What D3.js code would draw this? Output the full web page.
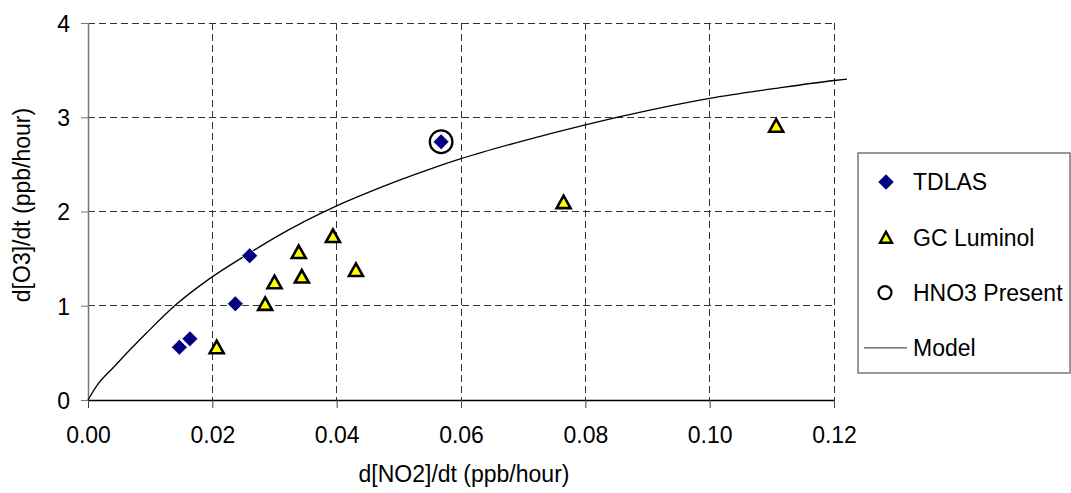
<!DOCTYPE html>
<html>
<head>
<meta charset="utf-8">
<script src="https://cdn.jsdelivr.net/npm/d3@7"></script>
<style>
  body { margin: 0; background: #fff; }
  svg { display: block; font-family: Arial, "Liberation Sans", sans-serif; }
  .grid line { stroke: #333; stroke-width: 1; stroke-dasharray: 7,4; shape-rendering: crispEdges; }
  .tick-label { font-size: 23px; fill: #000; }
  .axis-label { font-size: 23px; fill: #000; }
  .legend-text { font-size: 23px; fill: #000; }
</style>
</head>
<body>
<svg id="chart" width="1071" height="493"></svg>
<script>
var margin = {top: 23, right: 237, bottom: 93, left: 88};
var width = 1071 - margin.left - margin.right,
    height = 493 - margin.top - margin.bottom;

var navy = "#000080",
    yellow = "#ffff00";

// TDLAS measurements
var tdlasX = [0.0147, 0.0164, 0.0237, 0.0260, 0.0568];
var tdlasY = [0.56, 0.65, 1.02, 1.53, 2.74];

// GC Luminol measurements
var gcX = [0.0207, 0.0285, 0.0300, 0.0339, 0.0344, 0.0394, 0.0431, 0.0765, 0.1107];
var gcY = [0.56, 1.02, 1.25, 1.57, 1.31, 1.74, 1.38, 2.10, 2.91];

// points where HNO3 was present
var hno3X = [0.0568];
var hno3Y = [2.74];

// model curve
var modelX = [0, 0.0014, 0.004, 0.0094, 0.0143, 0.0194, 0.026, 0.030, 0.035, 0.040,
              0.045, 0.050, 0.055, 0.060, 0.070, 0.080, 0.090, 0.100, 0.110, 0.120, 0.1221];
var modelY = [0, 0.15, 0.34, 0.71, 1.02, 1.28, 1.56, 1.72, 1.90, 2.06,
              2.20, 2.33, 2.45, 2.56, 2.75, 2.92, 3.07, 3.20, 3.30, 3.39, 3.405];

var xTicks = [0, 0.02, 0.04, 0.06, 0.08, 0.10, 0.12];
var yTicks = [0, 1, 2, 3, 4];

var legendLabels = ["TDLAS", "GC Luminol", "HNO3 Present", "Model"];

var x = d3.scaleLinear().domain([0, 0.12]).range([0, width]);
var y = d3.scaleLinear().domain([0, 4]).range([height, 0]);

var svg = d3.select("#chart")
  .append("g")
    .attr("transform", "translate(" + margin.left + "," + margin.top + ")");

//Dashed gridlines
svg.append("g").attr("class", "grid")
  .selectAll("line")
  .data(xTicks.slice(1))
  .enter().append("line")
    .attr("x1", function(d){return x(d);})
    .attr("x2", function(d){return x(d);})
    .attr("y1", 0)
    .attr("y2", height);

svg.append("g").attr("class", "grid")
  .selectAll("line")
  .data(yTicks.slice(1))
  .enter().append("line")
    .attr("x1", 0)
    .attr("x2", width)
    .attr("y1", function(d){return y(d);})
    .attr("y2", function(d){return y(d);});

//X axis
var xAxis = svg.append("g")
  .attr("transform", "translate(0," + height + ")")
  .call(d3.axisBottom(x).tickValues(xTicks).tickSize(8).tickPadding(0).tickFormat(d3.format(".2f")));
xAxis.select(".domain").attr("stroke", "#000").attr("stroke-width", 1.5).attr("d", "M0,0.5H" + width);
xAxis.selectAll(".tick line").attr("stroke", "#444");
xAxis.selectAll(".tick text")
  .attr("class", "tick-label")
  .attr("font-size", null).attr("font-family", null)
  .attr("y", 43).attr("dy", 0);

//Y axis
var yAxis = svg.append("g")
  .call(d3.axisLeft(y).tickValues(yTicks).tickSize(7).tickPadding(0).tickFormat(d3.format("d")));
yAxis.select(".domain").attr("stroke", "#777").attr("stroke-width", 1.5).attr("d", "M0.5," + height + "V0");
yAxis.selectAll(".tick line").attr("stroke", "#777");
yAxis.selectAll(".tick text")
  .attr("class", "tick-label")
  .attr("font-size", null).attr("font-family", null)
  .attr("x", -18).attr("dy", "0.36em");

//Axis titles
svg.append("text")
  .attr("class", "axis-label")
  .attr("text-anchor", "middle")
  .attr("x", 464 - margin.left)
  .attr("y", 482 - margin.top)
  .text("d[NO2]/dt (ppb/hour)");

svg.append("text")
  .attr("class", "axis-label")
  .attr("text-anchor", "middle")
  .attr("transform", "translate(" + (30 - margin.left) + "," + (205 - margin.top) + ") rotate(-90)")
  .text("d[O3]/dt (ppb/hour)");

//Model line
var model = modelX.map(function(d, i){return {x: d, y: modelY[i]};});
svg.append("path")
  .datum(model)
  .attr("fill", "none")
  .attr("stroke", "#000")
  .attr("stroke-width", 1.3)
  .attr("d", d3.line()
    .curve(d3.curveMonotoneX)
    .x(function(d){return x(d.x);})
    .y(function(d){return y(d.y);}));

//Marker shapes
var diamondPath = d3.symbol().type(d3.symbolSquare).size(128)();
var trianglePath = "M0,-6.5L7,6L-7,6Z";

var gc = gcX.map(function(d, i){return {x: d, y: gcY[i]};});
svg.selectAll(".gc")
  .data(gc)
  .enter().append("path")
    .attr("class", "gc")
    .attr("d", trianglePath)
    .attr("transform", function(d){return "translate(" + x(d.x) + "," + y(d.y) + ")";})
    .style("fill", yellow)
    .style("stroke", "#000")
    .style("stroke-width", 2.6)
    .style("stroke-linejoin", "miter");

var tdlas = tdlasX.map(function(d, i){return {x: d, y: tdlasY[i]};});
svg.selectAll(".tdlas")
  .data(tdlas)
  .enter().append("path")
    .attr("class", "tdlas")
    .attr("d", diamondPath)
    .attr("transform", function(d){return "translate(" + x(d.x) + "," + y(d.y) + ") rotate(45)";})
    .style("fill", navy)
    .style("stroke", "#fff")
    .style("stroke-width", 0.8);

var hno3 = hno3X.map(function(d, i){return {x: d, y: hno3Y[i]};});
svg.selectAll(".hno3")
  .data(hno3)
  .enter().append("circle")
    .attr("class", "hno3")
    .attr("cx", function(d){return x(d.x);})
    .attr("cy", function(d){return y(d.y);})
    .attr("r", 11.3)
    .style("fill", "none")
    .style("stroke", "#000")
    .style("stroke-width", 2.3);

//Legend
var legend = d3.select("#chart").append("g")
  .attr("transform", "translate(858,153)");

legend.append("rect")
  .attr("width", 212)
  .attr("height", 220)
  .style("fill", "#fff")
  .style("stroke", "#777")
  .style("stroke-width", 1.5);

var rowY = function(i){return 29 + i * 55.3;};

legend.selectAll(".legend-text")
  .data(legendLabels)
  .enter().append("text")
    .attr("class", "legend-text")
    .attr("x", 55)
    .attr("y", function(d, i){return rowY(i);})
    .attr("dy", "0.36em")
    .text(function(d){return d;});

legend.append("path")
  .attr("d", d3.symbol().type(d3.symbolSquare).size(120)())
  .attr("transform", "translate(28," + rowY(0) + ") rotate(45)")
  .style("fill", navy);

legend.append("path")
  .attr("d", "M0,-5.5L6,5.5L-6,5.5Z")
  .attr("transform", "translate(28," + rowY(1) + ")")
  .style("fill", yellow)
  .style("stroke", "#000")
  .style("stroke-width", 2.4);

legend.append("circle")
  .attr("cx", 27)
  .attr("cy", rowY(2))
  .attr("r", 6.5)
  .style("fill", "none")
  .style("stroke", "#000")
  .style("stroke-width", 2.2);

legend.append("line")
  .attr("x1", 6)
  .attr("x2", 49)
  .attr("y1", rowY(3))
  .attr("y2", rowY(3))
  .style("stroke", "#555")
  .style("stroke-width", 1.3);
</script>
</body>
</html>
